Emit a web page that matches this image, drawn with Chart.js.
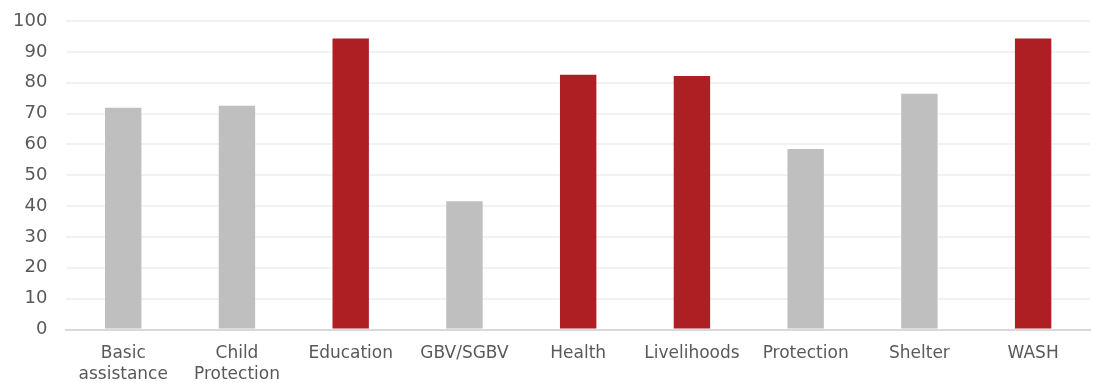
<!DOCTYPE html>
<html>
<head>
<meta charset="utf-8">
<script src="https://cdn.jsdelivr.net/npm/chart.js@4/dist/chart.umd.min.js"></script>
<style>
  html, body { margin: 0; padding: 0; background: #fff; overflow: hidden; }
  canvas { display: block; }
</style>
</head>
<body>
<canvas id="grafico" width="1095" height="383"></canvas>
<script>
// sectores y porcentaje
const sectores = [
  ["Basic", "assistance"], ["Child", "Protection"], "Education", "GBV/SGBV",
  "Health", "Livelihoods", "Protection", "Shelter", "WASH"
];
const valores = [71.9, 72.5, 94.3, 41.6, 82.6, 82.2, 58.5, 76.4, 94.3];
const destacados = [false, false, true, false, true, true, false, false, true];
const ticksY = [0, 10, 20, 30, 40, 50, 60, 70, 80, 90, 100];

const rojo = '#ae1f24';
const gris = '#bfbfbf';
const colores = destacados.map(d => d ? rojo : gris);

const ctx = document.getElementById("grafico");
const grafico = new Chart(ctx, {
  type: 'bar',
  data: {
    labels: sectores,
    datasets: [{
      data: valores,
      backgroundColor: colores,
      borderWidth: 0,
      categoryPercentage: 1,
      barPercentage: 0.32
    }]
  },
  options: {
    responsive: false,
    animation: false,
    devicePixelRatio: 1,
    // el padding de los ticks se cuenta doble, se compensa aqui
    layout: { padding: { left: -6, right: 5, top: 0, bottom: -15 } },
    plugins: {
      legend: { display: false },
      tooltip: { enabled: false }
    },
    scales: {
      x: {
        grid: { display: false, drawTicks: false },
        border: { display: true, color: '#d9d9d9', width: 2 },
        ticks: {
          color: '#595959',
          padding: 13,
          maxRotation: 0,
          autoSkip: false,
          font: { family: 'DejaVu Sans', size: 17, lineHeight: 1.25 }
        }
      },
      y: {
        min: 0,
        max: 100,
        afterBuildTicks: axis => { axis.ticks = ticksY.map(v => ({ value: v })); },
        // sin esto el padding del tick empuja el area hacia abajo
        afterFit: axis => { axis.paddingTop = 21; axis.paddingBottom = 11; },
        grid: { color: '#f2f2f2', lineWidth: 2, drawTicks: false },
        border: { display: false },
        ticks: {
          color: '#595959',
          padding: 19,
          font: { family: 'DejaVu Sans', size: 18 }
        }
      }
    }
  }
});
</script>
</body>
</html>
